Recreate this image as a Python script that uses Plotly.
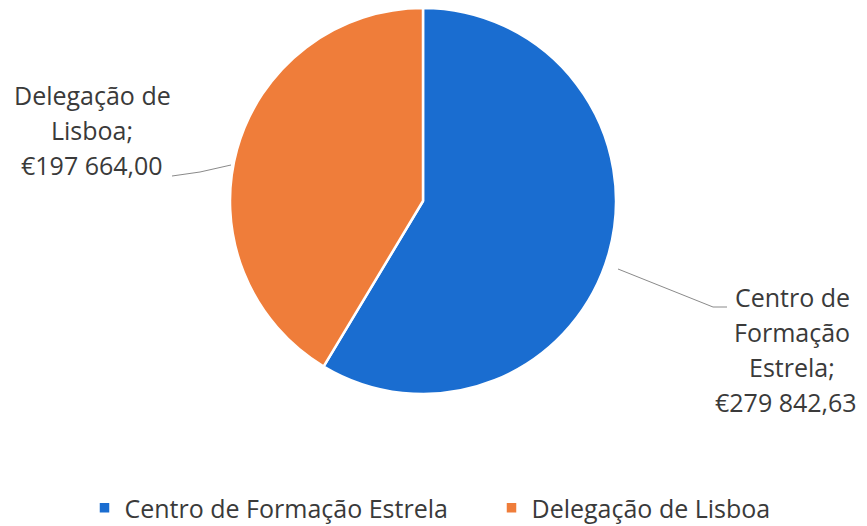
import plotly.graph_objects as go

labels = ["Centro de Formação Estrela", "Delegação de Lisboa"]
values = [279842.63, 197664.00]
value_text = ["€279 842,63", "€197 664,00"]
label_lines = [["Centro de", "Formação", "Estrela;"], ["Delegação de", "Lisboa;"]]
colors = ["#1a6dd0", "#ef7d3a"]

W, H = 867, 526
OFF = 8  # page body margin offset
cx, cy, r = 423 - OFF, 201 - OFF, 193

fig = go.Figure(go.Pie(
    labels=labels, values=values, sort=False, direction="clockwise", rotation=0,
    marker=dict(colors=colors, line=dict(color="white", width=2.5)),
    textinfo="none", hoverinfo="label+value",
    domain=dict(x=[(cx - r) / W, (cx + r) / W], y=[1 - (cy + r) / H, 1 - (cy - r) / H]),
))

font = dict(family="Open Sans", size=25, color="#3a3a3a")
# (center x of text lines, center x of value line, first line y) in window px
blocks = [(792, 786, 297), (92, 92, 95)]
step = 35
for i in range(2):
    lines = label_lines[i] + [value_text[i]]
    bx, vx, by = blocks[i]
    for j, t in enumerate(lines):
        x = vx if j == len(lines) - 1 else bx
        fig.add_annotation(x=(x - OFF) / W, y=1 - (by - OFF + j * step) / H, xref="paper", yref="paper",
                           text=t, showarrow=False, font=font, xanchor="center", yanchor="middle")

def P(x, y):
    return f"{(x - OFF) / W},{1 - (y - OFF) / H}"

fig.add_shape(type="path", xref="paper", yref="paper",
              path=f"M{P(618, 269)} L{P(713, 307)} L{P(727, 307)}",
              line=dict(color="#8a8a8a", width=1))
fig.add_shape(type="path", xref="paper", yref="paper",
              path=f"M{P(172, 176)} L{P(200, 172)} L{P(231, 165)}",
              line=dict(color="#8a8a8a", width=1))

fig.update_layout(
    width=W, height=H, margin=dict(l=0, r=0, t=0, b=0, autoexpand=False),
    paper_bgcolor="white", plot_bgcolor="white",
    showlegend=True,
    legend=dict(orientation="h", x=0.5 + 50 / W, xanchor="center", y=1 - (508 - OFF) / H, yanchor="middle",
                font=dict(family="Open Sans", size=25, color="#3a3a3a"),
                entrywidth=362, entrywidthmode="pixels"),
)
fig.write_html("out.html")
